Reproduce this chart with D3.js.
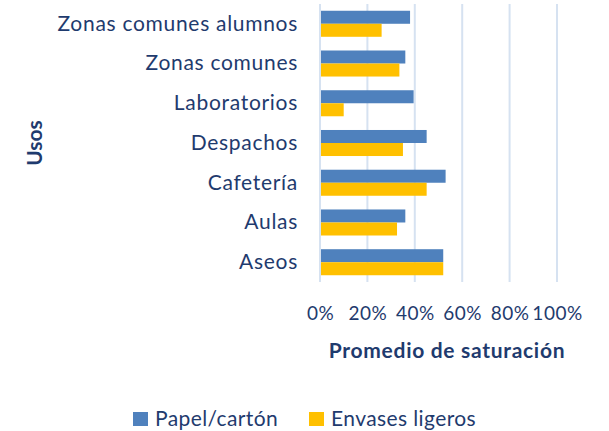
<!DOCTYPE html>
<html><head><meta charset="utf-8">
<script src="https://cdn.jsdelivr.net/npm/d3@7"></script>
<style>body{margin:0;background:#fff;} svg{display:block;font-family:Lato,"Open Sans",sans-serif;}</style>
</head><body>
<svg id="c" width="609" height="431"></svg>
<script>
const categories = ["Zonas comunes alumnos","Zonas comunes","Laboratorios","Despachos","Cafetería","Aulas","Aseos"];
const seriesNames = ["Papel/cartón","Envases ligeros"];
const papel = [0.38,0.36,0.395,0.45,0.53,0.36,0.52];
const envases = [0.26,0.335,0.10,0.35,0.45,0.325,0.52];
const xTicks = [0,0.2,0.4,0.6,0.8,1.0];
const colors = ["#4f81bd","#ffc000"];
const textColor = "#1f3b6e";

const svg = d3.select("#c");
const m = {left:320, right:52, top:4, bottom:149};
const W = 609, H = 431;
const x = d3.scaleLinear().domain([0,1]).range([m.left, W - m.right]);
const y = d3.scaleBand().domain(categories).range([m.top, H - m.bottom]).paddingInner(0.345).paddingOuter(0.17);
const y2 = d3.scaleBand().domain(seriesNames).range([0, y.bandwidth()]);

// gridlines
svg.append("g").selectAll("line").data(xTicks).join("line")
  .attr("x1", d=>x(d)).attr("x2", d=>x(d))
  .attr("y1", m.top).attr("y2", H - m.bottom)
  .attr("stroke", "#d6e2f1").attr("stroke-width", 2);

const data = categories.map((c,i)=>({c, vals:[papel[i], envases[i]]}));
const g = svg.append("g");
data.forEach(d=>{
  d.vals.forEach((v,j)=>{
    g.append("rect")
      .attr("x", x(0)+1).attr("y", y(d.c)+y2(seriesNames[j]))
      .attr("width", x(v)-x(0)-1).attr("height", y2.bandwidth())
      .attr("fill", colors[j]);
  });
});

// x axis labels
const xa = svg.append("g").attr("transform", `translate(0,${H - m.bottom + 31})`)
  .call(d3.axisBottom(x).tickValues(xTicks).tickFormat(d3.format(".0%")).tickSize(0).tickPadding(0));
xa.select(".domain").remove();
xa.selectAll("text").attr("fill", textColor).attr("font-size", 19).attr("letter-spacing", 0.5)
  .attr("font-family","Lato").attr("dy","0.35em");

// y axis labels
const ya = svg.append("g").attr("transform", `translate(${m.left-22},0)`)
  .call(d3.axisLeft(y).tickSize(0).tickPadding(0));
ya.select(".domain").remove();
ya.selectAll("text").attr("fill", textColor).attr("font-size", 21).attr("letter-spacing", 0.7)
  .attr("font-family","Lato").attr("dy","0.33em");

// axis titles
svg.append("text").attr("x", 447).attr("y", 351).attr("text-anchor","middle").attr("dy","0.35em")
  .attr("font-size", 21).attr("letter-spacing", 0.7).attr("font-weight","bold").attr("fill", textColor).text("Promedio de saturación");
svg.append("text").attr("transform","translate(35,143) rotate(-90)").attr("text-anchor","middle").attr("dy","0.35em")
  .attr("font-size", 21).attr("font-weight","bold").attr("fill", textColor).text("Usos");

// legend
const legX = [133, 309];
const lg = svg.append("g");
seriesNames.forEach((s,j)=>{
  lg.append("rect").attr("x", legX[j]).attr("y", 412).attr("width", 15).attr("height", 14).attr("fill", colors[j]);
  lg.append("text").attr("x", legX[j]+22).attr("y", 419).attr("dy","0.35em")
    .attr("font-size", 21).attr("letter-spacing", 0.4).attr("fill", textColor).text(s);
});
</script>
</body></html>
